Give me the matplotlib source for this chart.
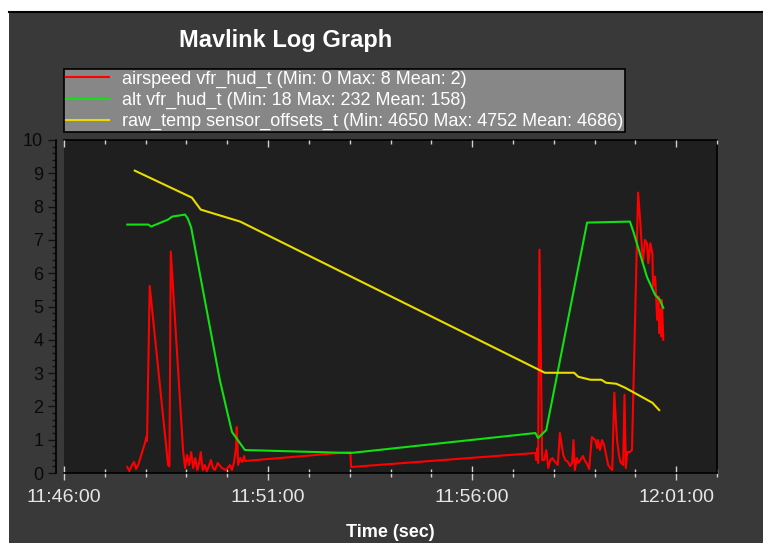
import datetime as dt
import matplotlib
matplotlib.use("Agg")
import matplotlib.pyplot as plt
import matplotlib.dates as mdates
from matplotlib.patches import Rectangle
from matplotlib.lines import Line2D

plt.rcParams['font.family'] = ['Liberation Sans', 'DejaVu Sans']

# ---- data (seconds after 11:46:00, plotted value) ----
airspeed_t = [93, 96, 100, 103, 106, 109, 119, 121, 122, 126, 153, 155, 157, 175, 178, 181, 184, 187,
              190, 193, 196, 199, 201, 204, 207, 210, 213, 216, 219, 222, 226, 232, 238, 244, 247, 250,
              253, 254, 256, 259, 262, 265, 266, 421, 422, 693, 694, 696, 697, 699, 703, 706, 709, 712,
              715, 718, 722, 726, 729, 734, 737, 741, 744, 747, 749, 751, 754, 756, 759, 763, 766, 769,
              772, 776, 781, 784, 785, 788, 791, 794, 797, 800, 803, 806, 809, 813, 816, 818, 822, 824,
              826, 828, 832, 835, 844, 847, 851, 854, 857, 859, 862, 865, 866, 869, 871, 872, 874, 875,
              876, 878, 879, 881]
airspeed_v = [0.18, 0.06, 0.24, 0.33, 0.12, 0.24, 0.90, 1.08, 0.96, 5.62, 0.24, 0.20, 6.65, 0.69, 0.15, 0.54, 0.24, 0.63,
              0.15, 0.45, 0.09, 0.33, 0.63, 0.09, 0.24, 0.06, 0.21, 0.39, 0.15, 0.09, 0.30, 0.15, 0.09, 0.24, 0.09, 0.33,
              0.78, 1.38, 0.24, 0.45, 0.33, 0.51, 0.36, 0.63, 0.18, 0.60, 0.39, 0.75, 0.30, 6.71, 0.39, 0.39, 0.69, 0.15,
              0.39, 0.45, 0.33, 0.24, 1.20, 0.54, 0.39, 0.33, 0.21, 0.30, 0.99, 0.09, 0.45, 0.30, 0.39, 0.51, 0.36, 0.27,
              0.12, 1.08, 0.99, 0.75, 0.99, 0.69, 0.99, 0.84, 0.54, 0.24, 0.15, 0.09, 2.41, 0.99, 0.54, 0.33, 0.24, 2.35,
              0.15, 0.63, 0.63, 0.69, 8.42, 7.6, 6.3, 7.0, 6.9, 6.3, 6.9, 6.6, 5.6, 5.9, 5.1, 4.6, 5.3, 4.2,
              4.9, 4.1, 5.2, 4.0]

alt_t = [93, 124, 128, 153, 159, 178, 182, 187, 229, 240, 247, 266, 421, 693, 697, 703, 709, 769, 832, 837, 857, 869, 876, 881]
alt_v = [7.46, 7.46, 7.40, 7.61, 7.70, 7.76, 7.64, 7.37, 2.80, 1.83, 1.23, 0.69, 0.60, 1.20, 1.05, 1.17, 1.29, 7.52, 7.55, 7.25, 5.89, 5.35, 5.20, 4.96]

temp_t = [104, 188, 201, 259, 707, 750, 756, 774, 790, 797, 812, 825, 865, 875]
temp_v = [9.08, 8.27, 7.91, 7.55, 3.01, 3.01, 2.89, 2.80, 2.80, 2.71, 2.68, 2.56, 2.11, 1.89]

labels = ["airspeed vfr_hud_t (Min: 0 Max: 8 Mean: 2)",
          "alt vfr_hud_t (Min: 18 Max: 232 Mean: 158)",
          "raw_temp sensor_offsets_t (Min: 4650 Max: 4752 Mean: 4686)"]
colors = ["#ff0000", "#11e011", "#e8dc00"]
yticks = list(range(0, 11))

base = dt.datetime(2013, 1, 1, 11, 46, 0)
def to_dt(ts):
    return [base + dt.timedelta(seconds=s) for s in ts]

W, H = 763, 543
fig = plt.figure(figsize=(W / 100, H / 100), dpi=100)
fig.patch.set_facecolor("white")
panel = "#393939"
fig.patches.append(Rectangle((9 / W, 0), 1 - 9 / W, 1 - 12 / H, transform=fig.transFigure,
                             facecolor=panel, edgecolor="none", zorder=-10))
fig.lines.append(Line2D([9 / W, 1], [1 - 12 / H, 1 - 12 / H], transform=fig.transFigure,
                        color="black", lw=1.5))

ax = fig.add_axes([64 / W, 1 - 473 / H, (717 - 64) / W, (473 - 140) / H])
ax.set_facecolor("#1f1f1f")

series = [(airspeed_t, airspeed_v), (alt_t, alt_v), (temp_t, temp_v)]
handles = []
for (t, v), c, lab in zip(series, colors, labels):
    h, = ax.plot(to_dt(t), v, color=c, lw=1.5, label=lab)
    handles.append(h)

ax.set_xlim(base, base + dt.timedelta(minutes=16))
ax.set_ylim(0, 10)
ax.set_yticks(yticks)
ax.yaxis.set_minor_locator(plt.MultipleLocator(0.2))

maj = mdates.MinuteLocator(byminute=list(range(1, 60, 5)))
mino = mdates.MinuteLocator()
ax.xaxis.set_major_locator(maj)
ax.xaxis.set_minor_locator(mino)
ax.xaxis.set_major_formatter(mdates.DateFormatter("%H:%M:%S"))

for s in ["top", "right", "bottom"]:
    ax.spines[s].set_color("black")
    ax.spines[s].set_linewidth(1.2)
ax.spines["left"].set_position(("outward", 6))
ax.spines["left"].set_color("black")
ax.spines["left"].set_linewidth(1.2)

ax.tick_params(axis="y", which="major", direction="out", length=6, width=1, color="#111111",
               labelcolor="#0a0a0a", labelsize=13, pad=3)
ax.tick_params(axis="y", which="minor", direction="out", length=3, width=1, color="#111111")
ax.tick_params(axis="x", which="major", direction="inout", length=9.5, width=1, color="#d0d0d0",
               labelcolor="#e6e6e6", labelsize=14, pad=7, top=False)
ax.tick_params(axis="x", which="minor", direction="inout", length=6, width=1, color="#d0d0d0", top=False)

ax2 = ax.twiny()
ax2.set_xlim(ax.get_xlim())
ax2.xaxis.set_major_locator(mdates.MinuteLocator(byminute=list(range(1, 60, 5))))
ax2.xaxis.set_minor_locator(mdates.MinuteLocator())
ax2.tick_params(axis="x", which="major", direction="in", length=5, width=1, color="#d0d0d0",
                labeltop=False, top=True)
ax2.tick_params(axis="x", which="minor", direction="in", length=3, width=1, color="#d0d0d0", top=True)
for s in ax2.spines.values():
    s.set_visible(False)

leg = fig.legend(handles=handles, labels=labels, loc="upper left",
                 bbox_to_anchor=(64 / W, 1 - 69 / H), bbox_transform=fig.transFigure,
                 borderaxespad=0, fontsize=13, frameon=True, fancybox=False,
                 borderpad=0.1, labelspacing=0.22, handlelength=2.4, handletextpad=0.72)
fr = leg.get_frame()
fr.set_facecolor("#878787")
fr.set_edgecolor("black")
fr.set_alpha(1)
fr.set_linewidth(1.2)
for t in leg.get_texts():
    t.set_color("white")

fig.text(286 / W, 1 - 47 / H, "Mavlink Log Graph", color="white", fontsize=17,
         fontweight="bold", ha="center", va="baseline")
fig.text(390 / W, 1 - 537 / H, "Time (sec)", color="white", fontsize=13,
         fontweight="bold", ha="center", va="baseline")

fig.savefig("out.png", dpi=100, facecolor=fig.get_facecolor())
